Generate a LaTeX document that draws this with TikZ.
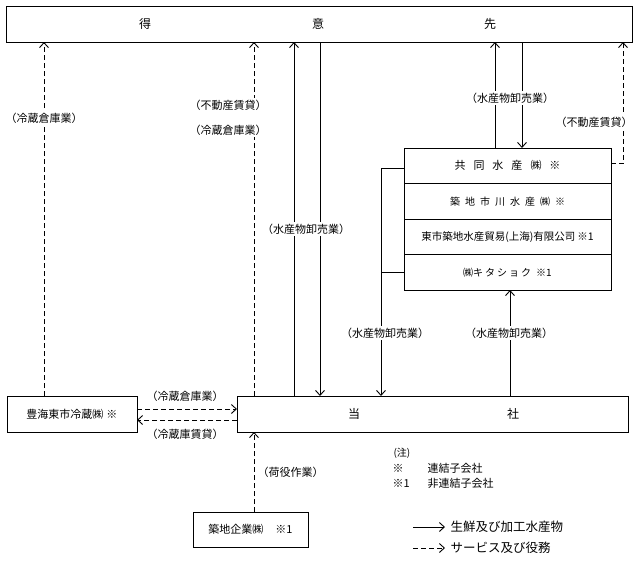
\documentclass[tikz,border=0pt]{standalone}
\usepackage{fontspec}
\newfontfamily\jp{Noto Sans CJK JP}
\usetikzlibrary{arrows.meta}
\begin{document}
\begin{tikzpicture}[x=1pt,y=-1pt,
  font=\jp\fontsize{11}{13}\selectfont,
  bx/.style={draw,line width=0.8pt,inner sep=0pt,outer sep=0pt},
  lbl/.style={fill=white,inner sep=1.5pt},
  tip/.style={-{Straight Barb[length=5pt,width=9pt]}},
  sol/.style={line width=0.9pt},
  dsh/.style={line width=0.9pt,dash pattern=on 5pt off 3pt}]
\fill[white] (0,0) rectangle (638,565);
\useasboundingbox (0,0) rectangle (638,565);

% boxes
\node[bx,minimum width=626pt,minimum height=36pt] (cust) at (319,24) {};
\node (c1) at (145,24) {\fontsize{12}{14}\selectfont 得};
\node (c2) at (318,24) {\fontsize{12}{14}\selectfont 意};
\node (c3) at (490,24) {\fontsize{12}{14}\selectfont 先};

\node[bx,minimum width=391pt,minimum height=36pt] (self) at (432.5,414) {};
\node (s1) at (354,414) {\fontsize{12}{14}\selectfont 当};
\node (s2) at (513,414) {\fontsize{12}{14}\selectfont 社};

\node[bx,minimum width=130pt,minimum height=36pt] (toyo) at (72,414) {豊海東市冷蔵㈱\hspace{3pt}※};
\node[bx,minimum width=115pt,minimum height=35pt] (kigyo) at (250.5,529.5) {築地企業㈱\hspace{12pt}※1};

\node[bx,minimum width=207pt,minimum height=35.5pt] (r1) at (507.5,165.75)
  {\fontsize{11}{13}\selectfont 共\hspace{8pt}同\hspace{8pt}水\hspace{8pt}産\hspace{8pt}㈱\hspace{8pt}※};
\node[bx,minimum width=207pt,minimum height=35.5pt] (r2) at (507.5,201.25)
  {\fontsize{10}{12}\selectfont 築\hspace{5pt}地\hspace{5pt}市\hspace{5pt}川\hspace{5pt}水\hspace{5pt}産\hspace{5pt}㈱\hspace{5pt}※};
\node[bx,minimum width=207pt,minimum height=35.5pt] (r3) at (507.5,236.75)
  {\fontsize{10.5}{12}\selectfont 東市築地水産貿易(上海)有限公司\hspace{2pt}※1};
\node[bx,minimum width=207pt,minimum height=35.5pt] (r4) at (507.5,272.25)
  {\fontsize{10}{12}\selectfont ㈱キ\hspace{2pt}タ\hspace{2pt}シ\hspace{2pt}ョ\hspace{2pt}ク\hspace{5pt}※1};

% column coordinates
\coordinate (xa) at (44,0);
\coordinate (xb) at (254,0);
\coordinate (xc) at (294,0);
\coordinate (xd) at (320,0);
\coordinate (xe) at (381,0);
\coordinate (xf) at (495,0);
\coordinate (xg) at (522,0);
\coordinate (xh) at (510,0);
\coordinate (xi) at (623,0);

% connectors to customers
\draw[dsh,tip] (xa |- toyo.north) -- (xa |- cust.south);
\node[lbl] (l1) at (44,118) {（冷蔵倉庫業）};

\draw[dsh,tip] (xb |- self.north) -- (xb |- cust.south);
\node[lbl,align=center,font=\jp\fontsize{11}{25}\selectfont] (l2) at (228,117.5) {（不動産賃貸）\\（冷蔵倉庫業）};

\draw[sol,tip] (xc |- self.north) -- (xc |- cust.south);
\draw[sol,tip] (xd |- cust.south) -- (xd |- self.north);
\node[lbl] (l3) at (306,229) {（水産物卸売業）};

\draw[sol,tip] (xf |- r1.north) -- (xf |- cust.south);
\draw[sol,tip] (xg |- cust.south) -- (xg |- r1.north);
\node[lbl] (l4) at (510,98) {（水産物卸売業）};

\draw[dsh,tip] ([yshift=2pt]r1.east) -- ([yshift=2pt]r1.east -| xi) -- (xi |- cust.south);
\node[lbl] (l5) at (594,122) {（不動産賃貸）};

% stack to self
\draw[sol,tip] ([yshift=-3pt]r1.west) -- ([yshift=-3pt]r1.west -| xe) -- (xe |- self.north);
\draw[sol] (r4.west) -- (r4.west -| xe);
\node[lbl] (l6) at (385,333) {（水産物卸売業）};

\draw[sol,tip] (xh |- self.north) -- (xh |- r4.south);
\node[lbl] (l7) at (509,333) {（水産物卸売業）};

% toyo <-> self
\draw[dsh,tip] ([yshift=5pt]toyo.east) -- ([yshift=5pt]toyo.east -| self.west);
\draw[dsh,tip] ([yshift=-6pt]toyo.east -| self.west) -- ([yshift=-6pt]toyo.east);
\node (l8) at (185,396) {（冷蔵倉庫業）};
\node (l9) at (185,434) {（冷蔵庫賃貸）};

% kigyo -> self
\draw[dsh,tip] (xb |- kigyo.north) -- (xb |- self.south);
\node[anchor=west] (l10) at (254,472) {（荷役作業）};

% notes
\node[anchor=west,font=\jp\fontsize{10}{12}\selectfont] (n0) at (390,453) {(注)};
\node[anchor=west,font=\jp\fontsize{11}{13}\selectfont] (n1) at (389,468) {※};
\node[anchor=west,font=\jp\fontsize{11}{13}\selectfont] (n2) at (424,468) {連結子会社};
\node[anchor=west,font=\jp\fontsize{11}{13}\selectfont] (n3) at (389,483) {※1};
\node[anchor=west,font=\jp\fontsize{11}{13}\selectfont] (n4) at (424,483) {非連結子会社};

% legend
\coordinate (g1a) at (413,527);
\coordinate (g1b) at (445,527);
\coordinate (g2a) at (413,548);
\coordinate (g2b) at (445,548);
\draw[sol,tip] (g1a) -- (g1b);
\draw[dsh,tip] (g2a) -- (g2b);
\node[anchor=west,font=\jp\fontsize{12.5}{14}\selectfont] (g1t) at (447,527) {生鮮及び加工水産物};
\node[anchor=west,font=\jp\fontsize{12.5}{14}\selectfont] (g2t) at (447,548) {サービス及び役務};
\end{tikzpicture}
\end{document}
